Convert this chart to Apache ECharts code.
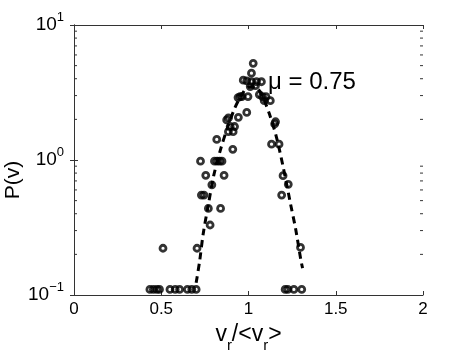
<!DOCTYPE html>
<html>
<head>
<meta charset="utf-8">
<title>P(v)</title>
<script src="https://cdn.jsdelivr.net/npm/echarts@6/dist/echarts.min.js"></script>
<style>
    html, body { margin: 0; padding: 0; background: #fff; }
    #main { width: 467px; height: 352px; }
</style>
</head>
<body>
<div id="main"></div>
<script>
var pointX = [
    0.435, 0.455, 0.475, 0.49, 0.55, 0.58, 0.605, 0.65, 0.675, 0.70,
    1.21, 1.225, 1.26, 1.305,
    0.51, 0.705, 1.298,
    0.78, 0.77, 0.84, 0.73, 0.745, 0.79, 0.755, 0.86,
    0.725, 0.805, 0.82, 0.835, 0.848,
    0.91, 0.818, 0.885, 0.912, 0.895, 0.92, 0.875, 0.885, 0.942, 0.99,
    0.94, 0.952, 0.962, 0.997,
    0.97, 0.99, 1.017, 1.027, 1.017, 1.046, 1.074, 1.01, 1.04,
    1.062, 1.08, 1.10, 1.09, 1.125,
    1.155, 1.15, 1.132, 1.175, 1.198, 1.228, 1.19
]
var pointY = [
    0.11, 0.11, 0.11, 0.11, 0.11, 0.11, 0.11, 0.11, 0.11, 0.11,
    0.11, 0.11, 0.11, 0.11,
    0.222, 0.222, 0.225,
    0.33, 0.438, 0.438, 0.55, 0.55, 0.655, 0.77, 0.77,
    0.98, 0.98, 0.98, 0.98, 0.98,
    1.2, 1.42, 1.62, 1.62, 1.77, 1.77, 1.98, 2.05, 2.07, 2.25,
    2.9, 2.95, 2.95, 2.95,
    3.9, 3.85, 4.4, 5.2, 3.8, 3.8, 3.8, 3.5, 3.55,
    3.05, 2.95, 2.95, 2.75, 2.75,
    1.92, 1.85, 1.31, 1.31, 0.766, 0.66, 0.55
]

// dashed fit curve
var fitX = [0.70, 0.72, 0.74, 0.77, 0.80, 0.84, 0.88, 0.92, 0.96, 1.00,
    1.04, 1.08, 1.12, 1.16, 1.20, 1.24, 1.27, 1.30, 1.31]
var fitY = [0.123, 0.178, 0.282, 0.468, 0.759, 1.20, 1.74, 2.40, 3.02, 3.47,
    3.47, 2.95, 2.19, 1.48, 0.871, 0.479, 0.309, 0.182, 0.158]

var xTicks = [0, 0.5, 1, 1.5, 2]
var yMinorTicks = [0.2, 0.3, 0.4, 0.5, 0.6, 0.7, 0.8, 0.9, 2, 3, 4, 5, 6, 7, 8, 9]

var FONT = 'Liberation Sans, Arial, Helvetica, sans-serif'
var FRAME = '#333'

var zip = function (xs, ys) {
    return xs.map(function (x, i) { return [x, ys[i]] })
}

var frameAxis = {
    axisLine: { show: true, lineStyle: { color: FRAME, width: 1 } },
    axisTick: { show: true, inside: true, length: 4, lineStyle: { color: FRAME } },
    splitLine: { show: false }
}

var chart = echarts.init(document.getElementById('main'))

var option = {
    backgroundColor: '#fff',
    animation: false,
    grid: { left: 74, right: 44, top: 25, bottom: 57, containLabel: false, outerBoundsMode: 'none' },
    xAxis: [
        Object.assign({
            type: 'value',
            position: 'bottom',
            min: xTicks[0],
            max: xTicks[xTicks.length - 1],
            interval: 0.5,
            axisLabel: { fontFamily: FONT, fontSize: 17, color: '#000', margin: 6 },
            name: '{a|v}{s|r}{a|/<v}{s|r}{a|>}',
            nameLocation: 'middle',
            nameGap: 11,
            nameTextStyle: {
                rich: {
                    a: { fontFamily: FONT, fontSize: 23, lineHeight: 38, color: '#000' },
                    s: { fontFamily: FONT, fontSize: 15, lineHeight: 15, verticalAlign: 'bottom', color: '#000' }
                }
            }
        }, frameAxis),
        Object.assign({
            type: 'value',
            position: 'top',
            min: xTicks[0],
            max: xTicks[xTicks.length - 1],
            interval: 0.5,
            axisLabel: { show: false }
        }, frameAxis)
    ],
    yAxis: [
        Object.assign({
            type: 'log',
            logBase: 10,
            min: 0.1,
            max: 10,
            position: 'left',
            axisLabel: {
                margin: 10,
                formatter: function (v) {
                    var e = Math.round(Math.log10(v))
                    return '{b|10}{e|' + (e < 0 ? '\u2212' + (-e) : e) + '}'
                },
                rich: {
                    b: { fontFamily: FONT, fontSize: 19, lineHeight: 28, color: '#000' },
                    e: { fontFamily: FONT, fontSize: 13, lineHeight: 13, verticalAlign: 'top', color: '#000' }
                }
            },
            name: 'P(v)',
            nameLocation: 'middle',
            nameRotate: 90,
            nameGap: 50,
            nameMoveOverlap: false,
            nameTextStyle: { fontFamily: FONT, fontSize: 21, color: '#000', padding: [0, 40, 0, 0] }
        }, frameAxis),
        Object.assign({
            type: 'log',
            logBase: 10,
            min: 0.1,
            max: 10,
            position: 'right',
            axisLabel: { show: false }
        }, frameAxis)
    ],
    graphic: [
        {
            type: 'text',
            x: 268,
            y: 82,
            style: {
                text: '\u03bc = 0.75',
                font: '24px ' + FONT,
                fill: '#000',
                verticalAlign: 'middle'
            }
        }
    ],
    series: [
        {
            // log minor ticks on left and right edges
            type: 'custom',
            silent: true,
            clip: false,
            data: yMinorTicks.map(function (v) { return [0, v] }),
            renderItem: function (params, api) {
                var v = api.value(1)
                var a = api.coord([xTicks[0], v])
                var b = api.coord([xTicks[xTicks.length - 1], v])
                var st = { stroke: FRAME, lineWidth: 1 }
                return {
                    type: 'group',
                    children: [
                        { type: 'line', shape: { x1: a[0], y1: a[1], x2: a[0] + 3, y2: a[1] }, style: st },
                        { type: 'line', shape: { x1: b[0], y1: b[1], x2: b[0] - 3, y2: b[1] }, style: st }
                    ]
                }
            }
        },
        {
            type: 'line',
            data: zip(fitX, fitY),
            showSymbol: false,
            smooth: 0.3,
            lineStyle: { color: '#000', width: 3, type: [7, 5] },
            z: 2
        },
        {
            type: 'scatter',
            data: zip(pointX, pointY),
            symbol: 'circle',
            symbolSize: 6,
            itemStyle: { color: 'rgba(0,0,0,0)', borderColor: '#000', borderWidth: 2.8 },
            z: 3
        }
    ]
}

chart.setOption(option)
</script>
</body>
</html>
